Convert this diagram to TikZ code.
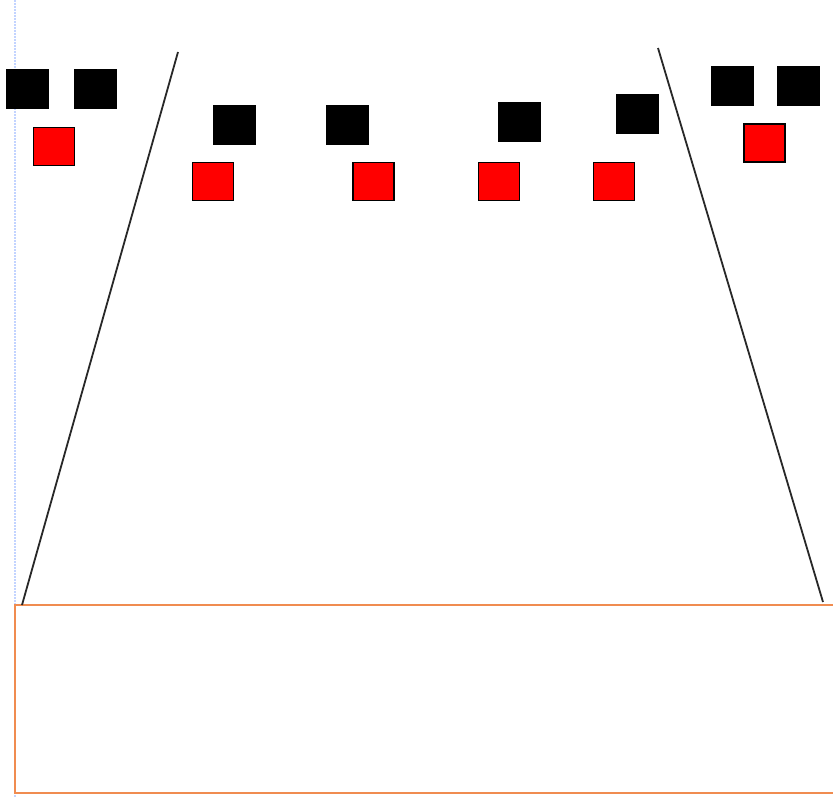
\documentclass[tikz,border=0pt]{standalone}
\definecolor{orangebox}{RGB}{240,140,80}
\definecolor{guide}{RGB}{195,212,255}
\definecolor{linegray}{RGB}{40,40,40}
\begin{document}
\begin{tikzpicture}[x=1pt,y=-1pt,
  blk/.style={draw=black,fill=black,line width=0.8pt,inner sep=0pt,outer sep=0pt,anchor=north west,minimum width=42pt,minimum height=39pt},
  redsq/.style={draw=black,fill=red,line width=1.3pt,inner sep=0pt,outer sep=0pt,anchor=north west,minimum width=41pt,minimum height=38pt},
  side/.style={draw=linegray,line width=1.8pt},
  guideline/.style={draw=guide,line width=2.2pt,dash pattern=on 2pt off 1pt}]
\useasboundingbox (0,0) rectangle (833,797);
\fill[white] (0,0) rectangle (833,797);
\draw[guideline] (15,0) -- (15,797);
% bottom box
\coordinate (bl) at (15,605);
\coordinate (br) at (840,605);
\draw[draw=orangebox,line width=2pt] (840,605) -- (15,605) -- (15,793) -- (840,793);
% side lines
\coordinate (lt) at (178,52);
\coordinate (lb) at (22,605);
\coordinate (rt) at (658,48);
\coordinate (rb) at (823,602);
\draw[side] (lt) -- (lb);
\draw[side] (rt) -- (rb);
% black squares
\node[blk] (b1) at (6.5,69.5) {};
\node[blk] (b2) at (74,69.5) {};
\node[blk] (b3) at (213.5,105.5) {};
\node[blk] (b4) at (326.5,105.5) {};
\node[blk] (b5) at (498,102.5) {};
\node[blk] (b6) at (616.5,94.5) {};
\node[blk] (b7) at (711,66.5) {};
\node[blk] (b8) at (777.5,66.5) {};
% red squares
\node[redsq] (r1) at (33.5,127.5) {};
\node[redsq] (r2) at (192.5,162.5) {};
\node[redsq] (r3) at (353,162.5) {};
\node[redsq] (r4) at (478.5,162.5) {};
\node[redsq] (r5) at (593.5,162.5) {};
\node[redsq] (r6) at (744,124) {};
\end{tikzpicture}
\end{document}
